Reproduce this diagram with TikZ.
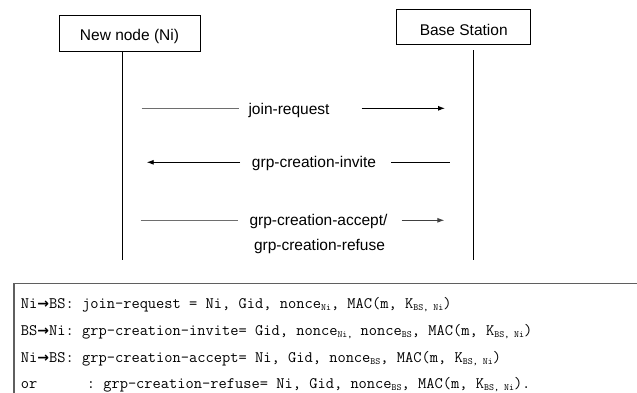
\documentclass[tikz,border=0pt]{standalone}
\usepackage{fontspec}
\setmainfont{Liberation Sans}
\newfontfamily\arrfont{DejaVu Sans}
\usetikzlibrary{arrows.meta}
\definecolor{segray}{RGB}{110,110,110}
\definecolor{boxgray}{RGB}{95,95,95}
\newcommand\sbx[1]{\raisebox{-1.5pt}{\fontsize{9.5}{10}\selectfont #1}}
\newcommand\rarr{{\arrfont\bfseries\fontsize{14}{16}\selectfont →}}
\begin{document}
\begin{tikzpicture}[x=1pt,y=-1pt,
  actor/.style={draw=black,line width=0.9pt,inner sep=0pt,fill=white},
  lbl/.style={anchor=base,inner sep=0pt,font=\fontsize{15.5}{18}\selectfont},
  life/.style={line width=0.9pt,black},
  seg/.style={line width=0.9pt,black},
  gseg/.style={line width=1.2pt,segray},
  tip/.style={-{Latex[length=7pt,width=5pt]}},
  mono/.style={anchor=base west,inner sep=0pt,font=\ttfamily\fontsize{16}{18}\selectfont\frenchspacing}]
\useasboundingbox (0,0) rectangle (637,392);
\clip (0,0) rectangle (637,392);
\fill[white] (0,0) rectangle (637,392);

% actors
\node[actor,minimum width=141pt,minimum height=36pt] (ni) at (129.5,33) {};
\node[lbl] (nit) at (129.5,40.5) {New node (Ni)};
\node[actor,minimum width=134pt,minimum height=35pt] (bs) at (463.7,26.5) {};
\node[lbl] (bst) at (463.7,35) {Base Station};

% lifelines
\coordinate (niend) at (122.5,260);
\coordinate (bstop) at (473,50);
\coordinate (bsend) at (473,260);
\draw[life] (ni.south -| niend) -- (niend);
\draw[life] (bstop) -- (bsend);

% message 1
\node[lbl] (m1) at (289,114) {join-request};
\coordinate (m1a) at (141.7,108.3);
\coordinate (m1b) at (239,108.3);
\coordinate (m1c) at (361.7,108.3);
\coordinate (m1d) at (445,108.3);
\draw[gseg] (m1a) -- (m1b);
\draw[seg,tip] (m1c) -- (m1d);

% message 2
\node[lbl] (m2) at (314,167.7) {grp-creation-invite};
\coordinate (m2a) at (240,162.3);
\coordinate (m2b) at (146.7,162.3);
\coordinate (m2c) at (391,162.3);
\coordinate (m2d) at (450,162.3);
\draw[seg,tip] (m2a) -- (m2b);
\draw[seg] (m2c) -- (m2d);

% message 3
\node[lbl] (m3) at (318.5,225.7) {grp-creation-accept/};
\node[lbl] (m3b) at (319.5,250.7) {grp-creation-refuse};
\coordinate (m3a) at (140.7,220.3);
\coordinate (m3e) at (238,220.3);
\coordinate (m3c) at (401.7,220.3);
\coordinate (m3d) at (444.3,220.3);
\draw[gseg] (m3a) -- (m3e);
\draw[seg,tip,draw=black!75] (m3c) -- (m3d);

% message summary box
\draw[boxgray,line width=1.3pt] (14,400) -- (14,283.3) -- (660,283.3);
\node[mono] (t1) at (20.7,308.5) {Ni\rarr BS: join-request = Ni, Gid, nonce\sbx{Ni}, MAC(m, K\sbx{BS, Ni})};
\node[mono] (t2) at (20.7,335.5) {BS\rarr Ni: grp-creation-invite= Gid, nonce\sbx{Ni,} nonce\sbx{BS}, MAC(m, K\sbx{BS, Ni})};
\node[mono] (t3) at (20.7,362.5) {Ni\rarr BS: grp-creation-accept= Ni, Gid, nonce\sbx{BS}, MAC(m, K\sbx{BS, Ni})};
\node[mono] (t4) at (20.7,388.5) {or\ \ \ \ \ \ : grp-creation-refuse= Ni, Gid, nonce\sbx{BS}, MAC(m, K\sbx{BS, Ni}).};
\end{tikzpicture}
\end{document}
